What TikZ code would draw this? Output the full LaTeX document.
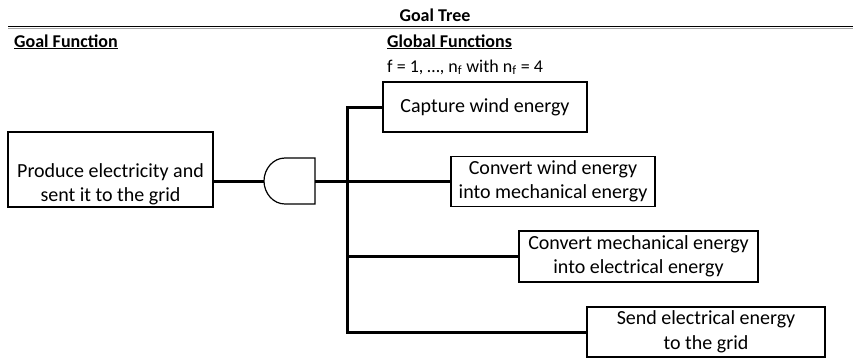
\documentclass[tikz,border=0pt]{standalone}
\usepackage{fontspec}
\setmainfont{Carlito}
\usepackage{xcolor}

\tikzset{
  fbox/.style={draw, line width=1.2pt, align=center, inner sep=0pt, font=\fontsize{20}{24.5}\selectfont},
  ftext/.style={align=center, inner sep=0pt, font=\fontsize{20}{24.5}\selectfont},
  head/.style={inner sep=0pt, font=\fontsize{18}{22}\selectfont\bfseries},
  plain/.style={inner sep=0pt, font=\fontsize{18}{22}\selectfont},
  link/.style={line width=3pt}
}

\begin{document}
\begin{tikzpicture}[x=1pt, y=-1pt]
\useasboundingbox (0,0) rectangle (853,359);

%header
\node[head, anchor=base] (title) at (435,21) {Goal Tree};
\draw [line width=1.6pt] (8,26.3) -- (853,26.3);
\draw [line width=1.2pt, gray!70] (8,28.4) -- (853,28.4);
\node[head, anchor=base west] (goalhead) at (14,47) {\underline{Goal Function}};
\node[head, anchor=base west] (globhead) at (387,47) {\underline{Global Functions}};
\node[plain, anchor=base west] (index) at (387,72) {f = 1, …, n\textsubscript{f} with n\textsubscript{f} = 4};

%goal function
\node[fbox, minimum width=205pt, minimum height=75pt] (goal) at (110.5,169.5) {};
\node[ftext] (goaltext) at (110.5,184.5) {Produce electricity and\\sent it to the grid};

%global functions
\node[fbox, minimum width=204pt, minimum height=50pt] (capture) at (485,107) {Capture wind energy};
\node[fbox, minimum width=204pt, minimum height=50pt] (convmech) at (553,181.5) {Convert wind energy\\into mechanical energy};
\node[fbox, minimum width=239pt, minimum height=51pt] (convelec) at (638.5,256.5) {Convert mechanical energy\\into electrical energy};
\node[fbox, minimum width=238pt, minimum height=50pt] (send) at (706,332) {Send electrical energy\\to the grid};

%and gate coords
\coordinate (andin) at (264,181); \coordinate (andout) at (315,181);
\coordinate (trunk) at (347,181);

%and gate draw
\draw [line width=1.2pt] (315,158) -- (285,158) .. controls (273,158) and (264,169) .. (andin) .. controls (264,193) and (273,204) .. (285,204) -- (315,204) -- cycle;

%connectors
\draw [link] (andin -| goal.east) -- (andin);
\draw [link] (andout) -- (trunk);
\draw [link] (capture.west) -- (capture.west -| trunk) -- (send.west -| trunk) -- (send.west);
\draw [link] (convmech.west) -- (convmech.west -| trunk);
\draw [link] (convelec.west) -- (convelec.west -| trunk);

\end{tikzpicture}
\end{document}
